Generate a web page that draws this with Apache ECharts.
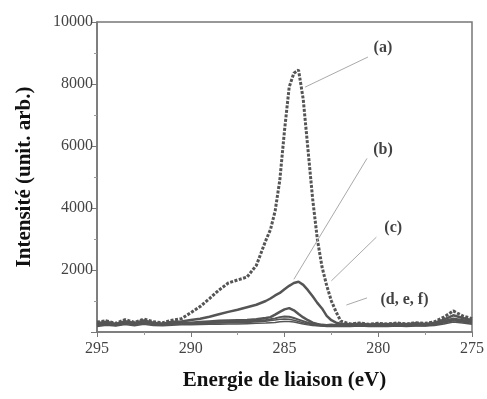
<!DOCTYPE html>
<html>
<head>
<meta charset="utf-8">
<script src="https://cdn.jsdelivr.net/npm/echarts@6/dist/echarts.min.js"></script>
<style>
  html, body { margin: 0; padding: 0; background: #fff; }
  #chart { width: 487px; height: 399px; }
</style>
</head>
<body>
<div id="chart"></div>
<script>
// Binding energy grid (eV), finer around the C1s peak
const energy = [
  295, 294.5, 294, 293.5, 293, 292.5, 292, 291.5, 291, 290.5,
  290, 289.5, 289, 288.5, 288, 287.5, 287, 286.5, 286,
  285.75, 285.5, 285.25, 285, 284.75, 284.5, 284.25, 284, 283.75,
  283.5, 283.25, 283, 282.75, 282.5, 282.25,
  282, 281.5, 281, 280.5, 280, 279.5, 279, 278.5, 278, 277.5,
  277, 276.5, 276, 275.5, 275
];

// Intensities
const seriesA = [
  320, 360, 280, 400, 310, 420, 330, 300, 380, 430,
  620, 820, 1080, 1350, 1580, 1680, 1770, 2150, 2950,
  3300, 3900, 4900, 6500, 7900, 8350, 8450, 7500, 5900,
  4300, 3000, 2100, 1500, 1000, 650,
  350, 260, 290, 250, 280, 260, 290, 260, 300, 280,
  330, 480, 680, 520, 430
];
const seriesB = [
  280, 330, 260, 350, 290, 370, 300, 270, 330, 340,
  390, 430, 490, 570, 650, 720, 800, 880, 1000,
  1080, 1180, 1260, 1380, 1490, 1580, 1620, 1520, 1350,
  1150, 940, 760, 520, 380, 300,
  270, 250, 270, 240, 260, 250, 270, 250, 280, 260,
  300, 400, 540, 450, 380
];
const seriesC = [
  250, 310, 240, 320, 270, 340, 280, 260, 300, 300,
  300, 320, 340, 360, 370, 380, 390, 410, 450,
  480, 560, 650, 730, 770, 700, 580, 470, 380,
  300, 260, 230, 220, 230, 220,
  230, 220, 240, 220, 230, 220, 240, 230, 250, 240,
  270, 350, 430, 380, 330
];
const seriesD = [
  220, 280, 230, 300, 250, 310, 260, 240, 270, 280,
  280, 290, 300, 310, 320, 330, 340, 360, 390,
  410, 440, 480, 500, 490, 450, 400, 350, 300,
  260, 230, 210, 200, 210, 200,
  210, 200, 220, 200, 210, 200, 220, 210, 230, 220,
  250, 320, 400, 350, 300
];
const seriesE = [
  200, 250, 210, 270, 230, 280, 240, 220, 250, 260,
  260, 270, 280, 290, 300, 300, 310, 330, 350,
  370, 390, 410, 420, 410, 380, 340, 300, 260,
  230, 210, 200, 190, 200, 190,
  200, 190, 200, 190, 200, 190, 200, 200, 210, 200,
  230, 290, 360, 320, 280
];
const seriesF = [
  180, 220, 190, 240, 200, 250, 210, 200, 220, 230,
  230, 240, 250, 250, 260, 260, 270, 280, 290,
  300, 310, 330, 340, 340, 320, 290, 260, 230,
  210, 200, 190, 180, 180, 180,
  180, 180, 190, 180, 180, 180, 190, 180, 190, 190,
  210, 260, 320, 290, 250
];

// Annotation labels and their leader lines (data units: eV, intensity)
const labelNames = ['(a)', '(b)', '(c)', '(d, e, f)'];
const labelPos = [[279.75, 9160], [279.75, 5870], [279.2, 3350], [278.6, 1030]];
const leaderFrom = [[280.55, 8870], [280.6, 5600], [280.1, 3060], [280.6, 1100]];
const leaderTo = [[283.9, 7900], [284.5, 1700], [282.5, 1650], [281.7, 870]];

const xTicks = [295, 290, 285, 280, 275];
const yTicks = [2000, 4000, 6000, 8000, 10000];

const pairs = arr => energy.map((e, i) => [e, arr[i]]);
const serif = 'Liberation Serif';
const lineColor = '#555';

const chart = echarts.init(document.getElementById('chart'));

const curve = (name, arr, width, dash) => ({
  name: name,
  type: 'line',
  data: pairs(arr),
  showSymbol: false,
  itemStyle: { color: lineColor },
  lineStyle: { color: lineColor, width: width, type: dash },
  silent: true,
  animation: false
});

chart.setOption({
  backgroundColor: '#fff',
  animation: false,
  grid: {
    left: 97, right: 14, top: 22, bottom: 67,
    show: true, borderColor: '#777', borderWidth: 1.5
  },
  xAxis: {
    type: 'value',
    inverse: true,
    min: 275, max: 295, interval: 5,
    name: 'Energie de liaison (eV)',
    nameLocation: 'middle',
    nameGap: 38,
    nameTextStyle: { fontFamily: serif, fontWeight: 'bold', fontSize: 21, color: '#111' },
    axisLine: { lineStyle: { color: '#777', width: 1.5 } },
    axisTick: { length: 5, lineStyle: { color: '#777' } },
    minorTick: { show: true, splitNumber: 2, length: 3, lineStyle: { color: '#999' } },
    splitLine: { show: false },
    axisLabel: {
      fontFamily: serif, fontSize: 16, color: '#444', margin: 9,
      formatter: v => xTicks.includes(v) ? String(v) : ''
    }
  },
  yAxis: {
    type: 'value',
    min: 0, max: 10000, interval: 2000,
    name: 'Intensité (unit. arb.)',
    nameLocation: 'middle',
    nameGap: 62,
    nameTextStyle: { fontFamily: serif, fontWeight: 'bold', fontSize: 21, color: '#111' },
    axisLine: { lineStyle: { color: '#777', width: 1.5 } },
    axisTick: { length: 6, lineStyle: { color: '#777' } },
    minorTick: { show: true, splitNumber: 2, length: 3, lineStyle: { color: '#999' } },
    splitLine: { show: false },
    axisLabel: {
      fontFamily: serif, fontSize: 16, color: '#444', margin: 4,
      formatter: v => yTicks.includes(v) ? String(v) : ''
    }
  },
  series: [
    curve('f', seriesF, 1.5, 'solid'),
    curve('e', seriesE, 1.5, 'solid'),
    curve('d', seriesD, 2, 'solid'),
    curve('c', seriesC, 2.5, 'solid'),
    curve('b', seriesB, 2.5, 'solid'),
    curve('a', seriesA, 3, [3, 1.5]),
    {
      name: 'labels',
      type: 'scatter',
      symbolSize: 0,
      silent: true,
      data: labelNames.map((n, i) => ({ name: n, value: labelPos[i] })),
      label: {
        show: true,
        position: 'inside',
        formatter: p => p.name,
        fontFamily: serif,
        fontSize: 16,
        color: '#111',
        fontWeight: 'bold'
      },
      markLine: {
        silent: true,
        symbol: 'none',
        label: { show: false },
        lineStyle: { color: '#aaa', width: 1, type: 'solid' },
        data: leaderFrom.map((f, i) => [{ coord: f }, { coord: leaderTo[i] }])
      }
    }
  ]
});
</script>
</body>
</html>
